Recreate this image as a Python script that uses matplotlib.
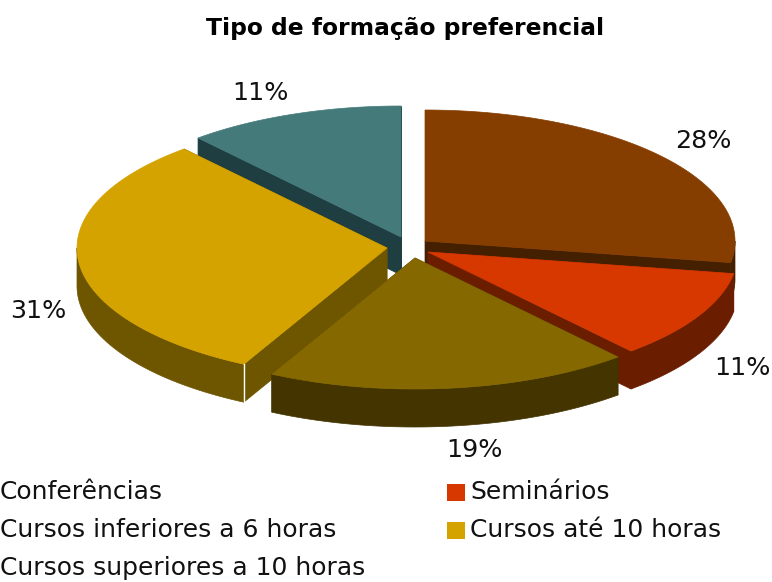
import numpy as np
import matplotlib
matplotlib.use("Agg")
import matplotlib.pyplot as plt
from matplotlib.patches import Polygon, Rectangle

title = "Tipo de formação preferencial"
categories = ["Conferências", "Seminários", "Cursos inferiores a 6 horas",
              "Cursos até 10 horas", "Cursos superiores a 10 horas"]
values = [28, 11, 19, 31, 11]

top_colors = ["#863D00", "#D63800", "#866800", "#D4A300", "#447A7A"]
side_colors = ["#452000", "#6B1D00", "#433400", "#6E5500", "#1F3E42"]

# layout: exploded centre of each slice (pixels), ellipse radii, thickness
centres = [(425, 241), (428, 252), (415, 258), (387, 248), (401, 237)]
RX, RY, DEPTH = 310, 131, 38
BOUNDARY_SHIFT = np.radians(1.3)   # the reference's slight perspective skew
draw_order = [4, 0, 3, 1, 2]
label_pos = [(703, 141), (742, 368), (474, 450), (38, 311), (260, 93)]

fig = plt.figure(figsize=(7.72, 5.82), dpi=100)
ax = fig.add_axes([0, 0, 1, 1])
ax.set_xlim(0, 772)
ax.set_ylim(582, 0)
ax.axis("off")

fractions = np.array(values, dtype=float) / sum(values)
edges = np.concatenate([[0], np.cumsum(fractions)]) * 2 * np.pi
edges[1:-1] -= BOUNDARY_SHIFT


def rim(c, a0, a1, n=80):
    t = np.linspace(a0, a1, n)
    return np.column_stack([c[0] + RX * np.sin(t), c[1] - RY * np.cos(t)])


for i in draw_order:
    c, a0, a1 = centres[i], edges[i], edges[i + 1]
    arc = rim(c, a0, a1)
    down = np.array([0, DEPTH])
    apex = np.array(c, dtype=float)
    side = side_colors[i]
    kw = dict(closed=True, facecolor=side, edgecolor=side, linewidth=0.5)
    # radial cut faces
    for p in (arc[0], arc[-1]):
        ax.add_patch(Polygon([apex, p, p + down, apex + down], **kw))
    # outer wall: only the part of the rim that faces the viewer
    lo, hi = max(a0, np.pi / 2), min(a1, 3 * np.pi / 2)
    if lo < hi:
        wall = rim(c, lo, hi)
        ax.add_patch(Polygon(np.vstack([wall, (wall + down)[::-1]]), **kw))
    top = np.vstack([apex, arc])
    ax.add_patch(Polygon(top, closed=True, facecolor=top_colors[i],
                         edgecolor=top_colors[i], linewidth=0.5))
    # white seam on the corner of the gold slice
    if i == 3:
        ax.plot([arc[0][0]] * 2, [arc[0][1], arc[0][1] + DEPTH], color="white", lw=1)

for v, (x, y) in zip(values, label_pos):
    ax.text(x, y, f"{v}%", ha="center", va="center", fontsize=18.3, color="#111111")

ax.text(405.5, 28, title, ha="center", va="center", fontsize=16.8,
        fontweight="bold", color="black")

rows = [492, 530, 568]
for k, name in enumerate(categories):
    col, row = k % 2, k // 2
    mx = -23 if col == 0 else 447
    ax.add_patch(Rectangle((mx, rows[row] - 8.5), 18, 17, facecolor=top_colors[k], clip_on=True))
    ax.text(mx + 23, rows[row], name, ha="left", va="center", fontsize=18, color="#111111")

fig.savefig("out.png", dpi=100)
